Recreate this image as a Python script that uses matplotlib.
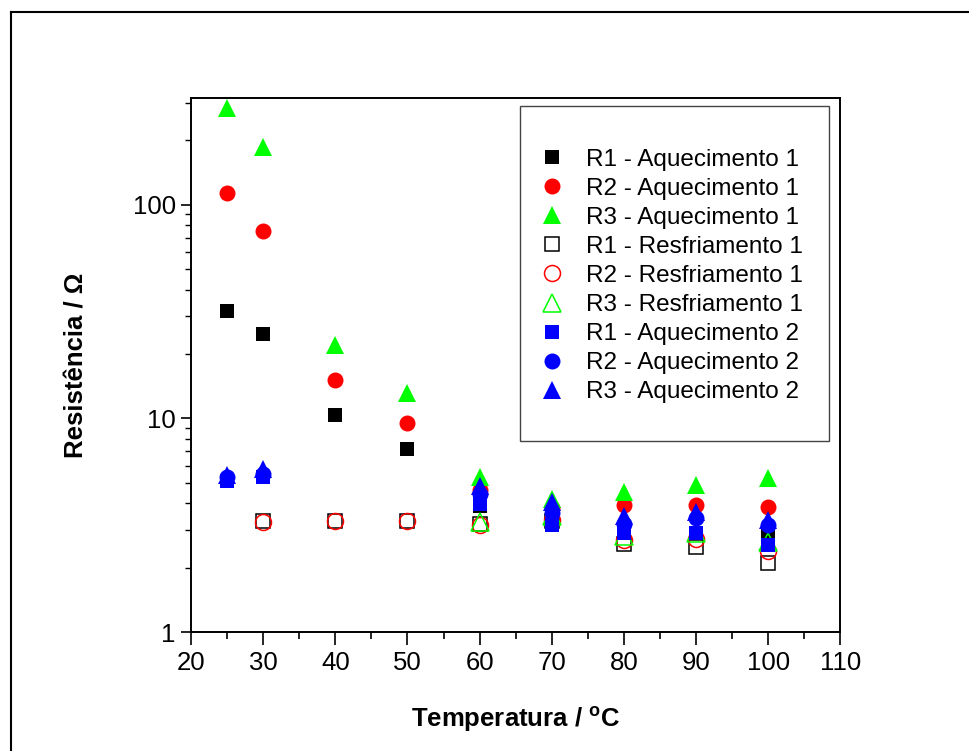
import numpy as np
import matplotlib
matplotlib.use('Agg')
import matplotlib.pyplot as plt
from matplotlib.lines import Line2D
from matplotlib.patches import Rectangle
from matplotlib.ticker import LogLocator, MultipleLocator, FixedLocator, NullFormatter

plt.rcParams['font.family'] = ['Liberation Sans', 'DejaVu Sans']
plt.rcParams['mathtext.fontset'] = 'custom'
plt.rcParams['mathtext.rm'] = 'Liberation Sans'
plt.rcParams['mathtext.bf'] = 'Liberation Sans:bold'

#data
nan = np.nan
temps = [25, 30, 40, 50, 60, 70, 80, 90, 100]

r1_aq1 = [31.6, 24.9, 10.4, 7.2, 3.88, 3.3, 2.92, 2.91, 2.8]
r2_aq1 = [113, 75, 15.1, 9.5, 4.6, 3.8, 3.93, 3.93, 3.86]
r3_aq1 = [282, 186, 22.1, 13.1, 5.3, 4.2, 4.5, 4.85, 5.25]

r1_res = [nan, 3.3, 3.32, 3.32, 3.2, 3.3, 2.57, 2.5, 2.1]
r2_res = [nan, 3.28, 3.3, 3.3, 3.17, 3.35, 2.7, 2.73, 2.39]
r3_res = [nan, nan, nan, nan, 3.28, 3.5, 2.82, 2.9, 2.64]

r1_aq2 = [5.1, 5.3, nan, nan, 3.95, 3.17, 2.92, 2.91, 2.55]
r2_aq2 = [5.3, 5.5, nan, nan, 4.4, 3.6, 3.2, 3.4, 3.15]
r3_aq2 = [5.45, 5.8, nan, nan, 4.8, 4.05, 3.5, 3.65, 3.35]

labels = ['R1 - Aquecimento 1', 'R2 - Aquecimento 1', 'R3 - Aquecimento 1',
          'R1 - Resfriamento 1', 'R2 - Resfriamento 1', 'R3 - Resfriamento 1',
          'R1 - Aquecimento 2', 'R2 - Aquecimento 2', 'R3 - Aquecimento 2']

series = [r1_aq1, r2_aq1, r3_aq1, r1_res, r2_res, r3_res, r1_aq2, r2_aq2, r3_aq2]
colors = ['#000000', '#ff0000', '#00ff00'] * 2 + ['#0000ff'] * 3
shapes = ['s', 'o', '^'] * 3
sizes = {'s': 10.5, 'o': 11.5, '^': 13.5}
filled = [True] * 3 + [False] * 3 + [True] * 3

fig = plt.figure(figsize=(9.7, 7.51), dpi=100)
ax = fig.add_axes([191/970, 1 - 632/751, 649.5/970, 534/751])

for y, c, m, f, lab in zip(series, colors, shapes, filled, labels):
    ax.plot(temps, y, linestyle='none', marker=m, ms=sizes[m], color=c,
            mfc=c if f else 'none', mec=c, mew=0 if f else 1.1, label=lab)

ax.set_yscale('log')
ax.set_xlim(20, 110)
ax.set_ylim(1, 315)
ax.xaxis.set_major_locator(MultipleLocator(10))
ax.xaxis.set_minor_locator(MultipleLocator(5))
ax.yaxis.set_major_locator(FixedLocator([1, 10, 100]))
ax.yaxis.set_minor_locator(LogLocator(base=10, subs=np.arange(2, 10)))
ax.yaxis.set_minor_formatter(NullFormatter())
ax.set_yticklabels(['1', '10', '100'])

for s in ax.spines.values():
    s.set_linewidth(1.4)
ax.tick_params(axis='both', which='major', direction='out', labelsize=18.5, width=1.2)
ax.tick_params(axis='x', which='major', length=9, pad=5)
ax.tick_params(axis='y', which='major', length=7, pad=4)
ax.tick_params(axis='x', which='minor', direction='out', length=5, width=1.2)
ax.tick_params(axis='y', which='minor', direction='out', length=4, width=1.0)

ax.set_xlabel(r'Temperatura / $\mathbf{^{o}}$C', fontsize=18.5, fontweight='bold', labelpad=21)
ax.set_ylabel('Resistência / Ω', fontsize=18.5, fontweight='bold', labelpad=32)

#legend box drawn separately (it has a lot of empty padding)
ax.add_patch(Rectangle((0.5066, 0.358), 0.4754, 0.627, transform=ax.transAxes,
                       fill=False, ec='#444444', lw=1.0, zorder=5, clip_on=False))
ax.legend(loc='upper left', bbox_to_anchor=(0.537, 0.905), frameon=False,
          fontsize=17.5, handlelength=1.0, handletextpad=0.9, labelspacing=0.29,
          borderpad=0, borderaxespad=0)

#outer frame (only top and left are inside the picture)
fig.add_artist(Line2D([11/970, 1], [1 - 12/751, 1 - 12/751], transform=fig.transFigure, color='black', lw=1.5))
fig.add_artist(Line2D([11/970, 11/970], [0, 1 - 12/751], transform=fig.transFigure, color='black', lw=1.5))

fig.savefig('out.png', dpi=100)
